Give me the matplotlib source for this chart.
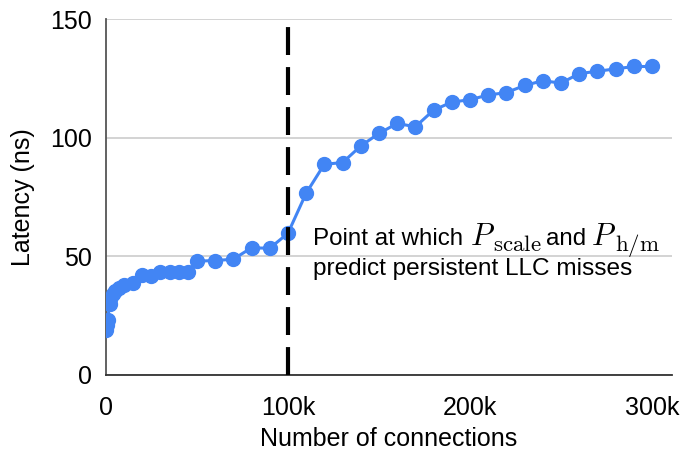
import matplotlib
matplotlib.use("Agg")
import matplotlib.pyplot as plt

plt.rcParams['font.family'] = ['Liberation Sans', 'DejaVu Sans']
plt.rcParams['mathtext.fontset'] = 'cm'

connections = [0, 500, 1000, 2000, 2500, 4000, 5000, 7000, 10000, 15000, 20000, 25000,
               30000, 35000, 40000, 45000, 50000, 60000, 70000, 80000, 90000, 100000,
               110000, 120000, 130000, 140000, 150000, 160000, 170000, 180000, 190000,
               200000, 210000, 220000, 230000, 240000, 250000, 260000, 270000, 280000,
               290000, 300000]
latency = [19, 21, 23, 30, 32, 34, 35.5, 36.5, 38, 38.6, 42, 41.6,
           43.6, 43.6, 43.6, 43.2, 48, 48.2, 48.8, 53.6, 53.4, 59.7,
           76.6, 88.8, 89.5, 96.5, 101.8, 106, 104.6, 111.6, 115,
           116, 118, 119, 122, 124, 123, 127, 128, 129,
           130, 130]
x_ticks = [0, 100000, 200000, 300000]
x_tick_labels = ['0', '100k', '200k', '300k']
y_ticks = [0, 50, 100, 150]
marker_x = 100000

fig = plt.figure(figsize=(6.83, 4.5), dpi=100)
ax = fig.add_axes([0.155, 0.1667, 0.829, 0.791])

ax.set_xlim(0, 311000)
ax.set_ylim(0, 150)
ax.set_yticks(y_ticks)
ax.set_xticks(x_ticks)
ax.set_xticklabels(x_tick_labels)
ax.grid(axis='y', color='#cccccc', linewidth=1.2)
ax.set_axisbelow(True)
for s in ['top', 'right']:
    ax.spines[s].set_visible(False)
ax.spines['left'].set_color('#555555')
ax.spines['bottom'].set_color('#333333')
ax.spines['left'].set_linewidth(1.3)
ax.spines['bottom'].set_linewidth(1.3)
ax.tick_params(length=0, labelsize=18)
ax.tick_params(axis='x', pad=15)
ax.tick_params(axis='y', pad=10)

ax.plot(connections, latency, color='#4285F4', linewidth=2.2, marker='o',
        markersize=10, zorder=3)

ax.plot([marker_x, marker_x], [0, 150], color='black', linewidth=3,
        dashes=(6.7, 2.9), zorder=4, clip_on=False)

line1_y = 54.8
sub_y = line1_y - 2.4
tfs = 17.4
kw = dict(ha='left', va='baseline', zorder=5)
ax.text(113700, line1_y, 'Point at which', fontsize=tfs, **kw)
ax.text(199800, line1_y, r'$P$', fontsize=22, **kw)
ax.text(212800, sub_y, r'$\mathrm{scale}$', fontsize=16.5, **kw)
ax.text(242000, line1_y, 'and', fontsize=tfs, **kw)
ax.text(266500, line1_y, r'$P$', fontsize=22, **kw)
ax.text(279500, sub_y, r'$\mathrm{h/m}$', fontsize=16.5, **kw)
ax.text(113700, 42.1, 'predict persistent LLC misses', fontsize=17.6, **kw)

ax.set_xlabel('Number of connections', fontsize=18, labelpad=5)
ax.set_ylabel('Latency (ns)', fontsize=18, labelpad=11)

fig.savefig('out.png', dpi=100)
